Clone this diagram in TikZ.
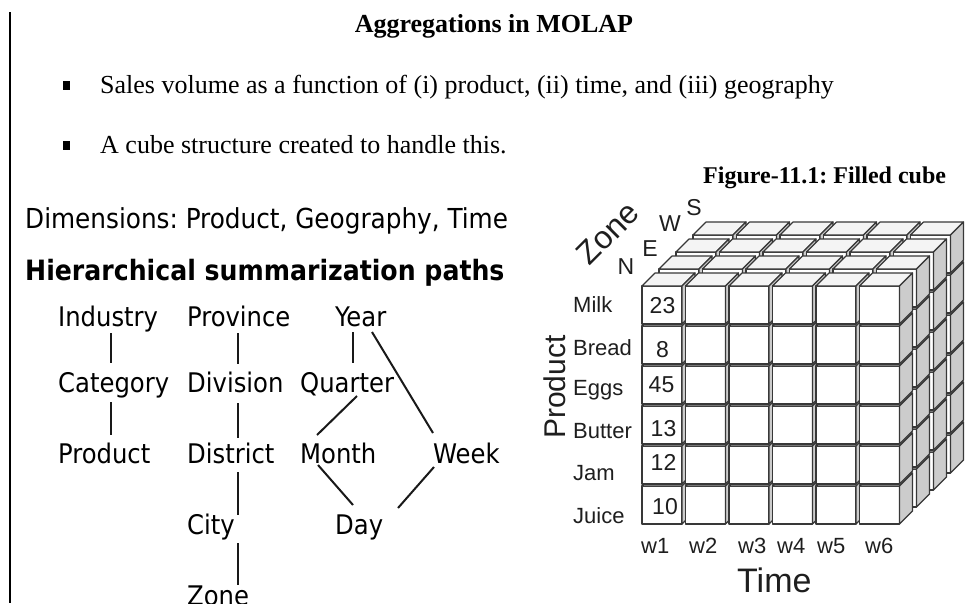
\documentclass[tikz,border=0pt]{standalone}
\usepackage{fontspec}
\setmainfont{Liberation Serif}
\newfontfamily\arialf{Liberation Sans}
\newfontfamily\tahf{DejaVu Sans Condensed}
\usetikzlibrary{calc}

\definecolor{edgegray}{HTML}{383838}
\definecolor{topface}{HTML}{F4F4F4}
\definecolor{sideface}{HTML}{CCCCCC}
\definecolor{inkgray}{HTML}{1E1E1E}

\begin{document}
\frenchspacing
\begin{tikzpicture}[x=1pt,y=-1pt,
  serif/.style={inner sep=0pt, text=black},
  hier/.style={anchor=base west, inner sep=0pt, text=black,
    font=\tahf\fontsize{27}{30}\selectfont},
  link/.style={line width=2pt, black!90},
  axislbl/.style={inner sep=0pt, text=inkgray, font=\arialf\fontsize{22}{24}\selectfont},
  cellnum/.style={inner sep=0pt, text=inkgray, font=\arialf\fontsize{23}{25}\selectfont},
  cubeedge/.style={draw=edgegray, line width=1.2pt, line join=round}
]
\useasboundingbox (0,0) rectangle (967,603);

% left margin rule
\draw[line width=1.5pt] (10,12) -- (10,603);

% heading and bullet points
\node[serif, anchor=base, font=\fontsize{26}{28}\selectfont\bfseries] (title) at (494,32) {Aggregations in MOLAP};
\fill (63,81) rectangle (70,90);
\node[serif, anchor=base west, font=\fontsize{26}{28}\selectfont] (b1) at (100,93)
  {Sales volume as a function of (i) product, (ii) time, and (iii) geography};
\fill (63,141) rectangle (70,150);
\node[serif, anchor=base west, font=\fontsize{26}{28}\selectfont] (b2) at (100,153)
  {A cube structure created to handle this.};
\node[serif, anchor=base west, font=\fontsize{24}{26}\selectfont\bfseries] (cap) at (703,183)
  {Figure-11.1: Filled cube};

% dimensions and hierarchies
\node[hier, font=\tahf\fontsize{27.5}{30}\selectfont] (dims) at (25,228) {Dimensions: Product, Geography, Time};
\node[hier, font=\tahf\fontsize{28}{30}\selectfont\bfseries] (paths) at (25,280) {Hierarchical summarization paths};

\node[hier] (ind)  at (58,326)  {Industry};
\node[hier] (cat)  at (58,392)  {Category};
\node[hier] (prod) at (58,463)  {Product};

\node[hier] (prov) at (187,326) {Province};
\node[hier] (div)  at (187,392) {Division};
\node[hier] (dist) at (187,463) {District};
\node[hier] (city) at (187,534) {City};
\node[hier] (zone) at (187,605) {Zone};

\node[hier] (year) at (335,326) {Year};
\node[hier] (qtr)  at (300,392) {Quarter};
\node[hier] (mon)  at (300,463) {Month};
\node[hier] (week) at (433,463) {Week};
\node[hier] (day)  at (335,534) {Day};

\draw[link] ($(ind.base west)+(53,7)$)  -- ($(cat.base west)+(53,-29)$);
\draw[link] ($(cat.base west)+(53,10)$) -- ($(prod.base west)+(53,-28)$);

\draw[link] ($(prov.base west)+(51,7)$)  -- ($(div.base west)+(51,-28)$);
\draw[link] ($(div.base west)+(51,11)$)  -- ($(dist.base west)+(51,-25)$);
\draw[link] ($(dist.base west)+(51,9)$)  -- ($(city.base west)+(51,-19)$);
\draw[link] ($(city.base west)+(51,9)$)  -- ($(zone.base west)+(51,-20)$);

\draw[link] ($(year.base west)+(18,6)$) -- ($(qtr.base west)+(53,-29)$);
\draw[link] ($(year.base west)+(37,6)$) -- ($(week.base west)+(0,-30)$);
\draw[link] ($(qtr.base west)+(57,4)$)  -- ($(mon.base west)+(17,-28)$);
\draw[link] ($(mon.base west)+(18,2)$)  -- ($(day.base west)+(18,-29)$);
\draw[link] ($(week.base west)+(1,4)$)  -- ($(day.base west)+(63,-26)$);

% the data cube: 4 zone layers, 6 product rows, 6 week columns (back to front)
\foreach \k in {3,2,1,0}{
  \foreach \r in {5,4,...,0}{
    \foreach \c in {0,...,5}{
      \pgfmathsetmacro\X{642+43.5*\c+17*\k}
      \pgfmathsetmacro\Y{286+40*\r-17*\k}
      \filldraw[cubeedge, fill=white] (\X,\Y) rectangle ++(40,38);
      \filldraw[cubeedge, fill=topface] (\X,\Y) -- ++(13,-13) -- ++(40,0) -- ++(-13,13) -- cycle;
      \filldraw[cubeedge, fill=sideface] (\X+40,\Y) -- ++(13,-13) -- ++(0,38) -- ++(-13,13) -- cycle;
    }
  }
}

% cell values
\node[cellnum] (v1) at (662.5,306) {23};
\node[cellnum] (v2) at (662.5,350) {8};
\node[cellnum] (v3) at (661.5,385) {45};
\node[cellnum] (v4) at (663.5,428.5) {13};
\node[cellnum] (v5) at (663.5,462) {12};
\node[cellnum] (v6) at (665,506.5) {10};

% product members
\node[axislbl, anchor=base west] (milk)   at (573,312) {Milk};
\node[axislbl, anchor=base west] (bread)  at (573,355) {Bread};
\node[axislbl, anchor=base west] (eggs)   at (573,395) {Eggs};
\node[axislbl, anchor=base west] (butter) at (573,438) {Butter};
\node[axislbl, anchor=base west] (jam)    at (573,480) {Jam};
\node[axislbl, anchor=base west] (juice)  at (573,523) {Juice};

% week members
\node[axislbl, anchor=base west] (w1) at (641,553) {w1};
\node[axislbl, anchor=base west] (w2) at (689,553) {w2};
\node[axislbl, anchor=base west] (w3) at (738,553) {w3};
\node[axislbl, anchor=base west] (w4) at (777,553) {w4};
\node[axislbl, anchor=base west] (w5) at (817,553) {w5};
\node[axislbl, anchor=base west] (w6) at (865,553) {w6};

% zone members
\node[axislbl, font=\arialf\fontsize{23}{25}\selectfont] (zn) at (626,267) {N};
\node[axislbl, font=\arialf\fontsize{23}{25}\selectfont] (ze) at (650,249) {E};
\node[axislbl, font=\arialf\fontsize{23}{25}\selectfont] (zw) at (670,224) {W};
\node[axislbl, font=\arialf\fontsize{23}{25}\selectfont] (zs) at (694,208) {S};

% axis titles
\node[axislbl, anchor=base west, font=\arialf\fontsize{34}{36}\selectfont] (time) at (737,592) {Time};
\node[axislbl, rotate=90, font=\arialf\fontsize{30}{32}\selectfont] (product) at (555,387) {Product};
\node[axislbl, rotate=45, font=\arialf\fontsize{32}{34}\selectfont] (zonelbl) at (608,233) {Zone};
\end{tikzpicture}
\end{document}
